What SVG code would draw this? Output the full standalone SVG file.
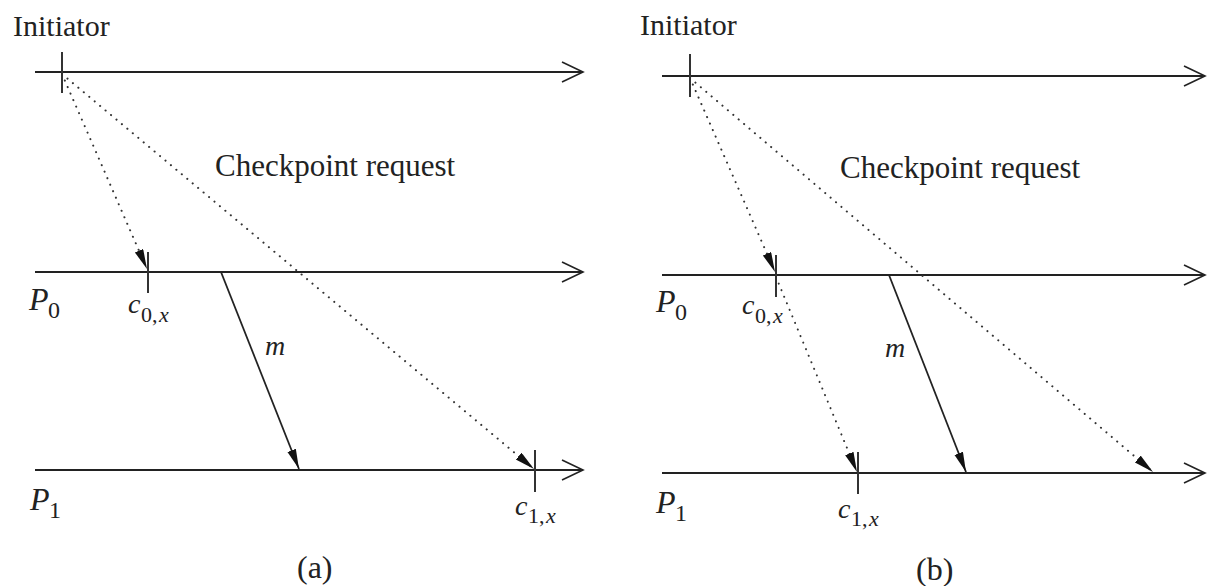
<svg xmlns="http://www.w3.org/2000/svg" width="1213" height="586" viewBox="0 0 1213 586">
<defs>
<marker id="open" markerUnits="userSpaceOnUse" markerWidth="24" markerHeight="24" refX="22" refY="11" orient="auto">
<path d="M1,1 L22,11 L1,21" fill="none" stroke="#222" stroke-width="1.6"/>
</marker>
<marker id="solid" markerUnits="userSpaceOnUse" markerWidth="22" markerHeight="10" refX="20" refY="4.5" orient="auto">
<path d="M0,0 L20,4.5 L0,9 z" fill="#111"/>
</marker>
</defs>
<style>
.ax{stroke:#222;stroke-width:1.8;fill:none}
.tick{stroke:#333;stroke-width:2;fill:none}
.dot{stroke:#333;stroke-width:2;stroke-dasharray:0.1 7;stroke-linecap:round;fill:none}
.msg{stroke:#222;stroke-width:1.8;fill:none}
.t{font-family:"Liberation Serif",serif;fill:#222}
.i{font-family:"Liberation Serif",serif;font-style:italic;fill:#222}
</style>
<g id="panel-a">
<g id="a-initiator">
<text class="t" x="13" y="36" font-size="30">Initiator</text>
<line class="ax" x1="35" y1="72" x2="583" y2="72" marker-end="url(#open)"/>
<line class="tick" x1="62" y1="52" x2="62" y2="93"/>
</g>
<g id="a-p0">
<line class="ax" x1="35" y1="272" x2="583" y2="272" marker-end="url(#open)"/>
<text class="i" x="29" y="310" font-size="32">P</text>
<text class="t" x="48" y="318" font-size="24">0</text>
<line class="tick" x1="148" y1="252" x2="148" y2="293"/>
<text class="i" x="128" y="313" font-size="28">c</text>
<text class="t" x="141" y="322" font-size="22">0,</text>
<text class="i" x="159" y="322" font-size="22">x</text>
</g>
<g id="a-p1">
<line class="ax" x1="35" y1="470" x2="583" y2="470" marker-end="url(#open)"/>
<text class="i" x="30" y="510" font-size="32">P</text>
<text class="t" x="49" y="518" font-size="24">1</text>
<line class="tick" x1="535" y1="450" x2="535" y2="492"/>
<text class="i" x="515" y="515" font-size="28">c</text>
<text class="t" x="528" y="523" font-size="22">1,</text>
<text class="i" x="546" y="523" font-size="22">x</text>
</g>
<text class="t" x="215" y="176" font-size="31">Checkpoint request</text>
<text class="i" x="265" y="355" font-size="28">m</text>
<text class="t" x="297" y="578" font-size="32">(a)</text>
<g id="a-connectors">
<line class="dot" x1="62" y1="74" x2="147" y2="269" marker-end="url(#solid)"/>
<line class="dot" x1="62" y1="74" x2="534" y2="469" marker-end="url(#solid)"/>
<line class="msg" x1="221" y1="272" x2="299" y2="469" marker-end="url(#solid)"/>
</g>
</g>
<g id="panel-b">
<g id="b-initiator">
<text class="t" x="640" y="35" font-size="30">Initiator</text>
<line class="ax" x1="662" y1="76" x2="1205" y2="76" marker-end="url(#open)"/>
<line class="tick" x1="690" y1="54" x2="690" y2="97"/>
</g>
<g id="b-p0">
<line class="ax" x1="662" y1="275" x2="1205" y2="275" marker-end="url(#open)"/>
<text class="i" x="656" y="312" font-size="32">P</text>
<text class="t" x="675" y="320" font-size="24">0</text>
<line class="tick" x1="776" y1="255" x2="776" y2="297"/>
<text class="i" x="742" y="314" font-size="28">c</text>
<text class="t" x="755" y="323" font-size="22">0,</text>
<text class="i" x="773" y="323" font-size="22">x</text>
</g>
<g id="b-p1">
<line class="ax" x1="662" y1="473" x2="1205" y2="473" marker-end="url(#open)"/>
<text class="i" x="656" y="513" font-size="32">P</text>
<text class="t" x="675" y="521" font-size="24">1</text>
<line class="tick" x1="858" y1="452" x2="858" y2="494"/>
<text class="i" x="838" y="518" font-size="28">c</text>
<text class="t" x="851" y="526" font-size="22">1,</text>
<text class="i" x="869" y="526" font-size="22">x</text>
</g>
<text class="t" x="840" y="178" font-size="31">Checkpoint request</text>
<text class="i" x="885" y="357" font-size="28">m</text>
<text class="t" x="916" y="580" font-size="32">(b)</text>
<g id="b-connectors">
<line class="dot" x1="690" y1="78" x2="775" y2="272" marker-end="url(#solid)"/>
<line class="dot" x1="776" y1="277" x2="857" y2="472" marker-end="url(#solid)"/>
<line class="dot" x1="690" y1="78" x2="1153" y2="472" marker-end="url(#solid)"/>
<line class="msg" x1="889" y1="275" x2="966" y2="472" marker-end="url(#solid)"/>
</g>
</g>
</svg>
